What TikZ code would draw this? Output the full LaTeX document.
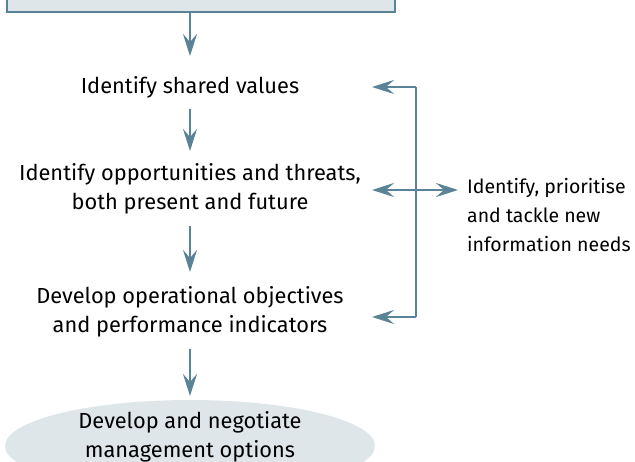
\documentclass[tikz,border=0pt]{standalone}
\usepackage{fontspec}
\setmainfont[Ligatures=NoCommon]{Fira Sans}
\usetikzlibrary{arrows.meta,shapes.geometric}
\definecolor{flowline}{HTML}{5B8397}
\definecolor{flowfill}{HTML}{DFE6EA}
\tikzset{
  flowarrow/.style={draw=flowline, line width=2.6pt,
    -{Stealth[length=22pt,width=14pt,inset=8pt]}},
  steptext/.style={align=center, inner sep=0pt, font=\fontsize{21.8}{29}\selectfont},
}
\begin{document}
\begin{tikzpicture}[x=1pt,y=-1pt]
  \useasboundingbox (0,0) rectangle (635,462);
  {
  % Marking top box (cut off by the page)
  \node [draw=flowline, fill=flowfill, line width=1.2pt, minimum width=388pt,
    minimum height=60pt, inner sep=0pt] (top) at (201,-18) {};%

  % Marking step values
  \node [steptext] (values) at (190,87) {Identify shared values};%

  % Marking step threats
  \node [steptext] (threats) at (190,189) {Identify opportunities and threats,\\both present and future};%

  % Marking step objectives
  \node [steptext] (objectives) at (190,312) {Develop operational objectives\\and performance indicators};%

  % Marking ellipse options (cut off by the page)
  \node [fill=flowfill, ellipse, minimum width=370pt, minimum height=92pt,
    inner sep=0pt] (options) at (190,446) {};%
  \node [steptext] (optionstext) at (190,437) {Develop and negotiate\\management options};%

  % Marking text needs
  \node [steptext, font=\fontsize{19.5}{29}\selectfont, align=left,
    anchor=north west] (needs) at (467,178)
    {Identify, prioritise\\and tackle new\\information needs};%

  % Drawing arrows down the chain
  \draw [flowarrow] (values.north |- top.south) -- (190,56);%
  \draw [flowarrow] (values.south) ++(0,11) -- (190,151);%
  \draw [flowarrow] (threats.south) ++(0,11) -- (190,272);%
  \draw [flowarrow] (objectives.south) ++(0,11) -- (190,396);%

  % Drawing bracket
  \coordinate (bra) at (416,87);%
  \coordinate (brb) at (416,190);%
  \coordinate (brc) at (416,317);%
  \draw [draw=flowline, line width=2.6pt] (bra) -- (brc);%
  \draw [flowarrow] (bra) -- (372,87);%
  \draw [flowarrow] (brb) -- (372,190);%
  \draw [flowarrow] (brc) -- (372,317);%
  \draw [flowarrow] (brb) -- ([xshift=-9pt]brb -| needs.west);%
  }
\end{tikzpicture}
\end{document}
